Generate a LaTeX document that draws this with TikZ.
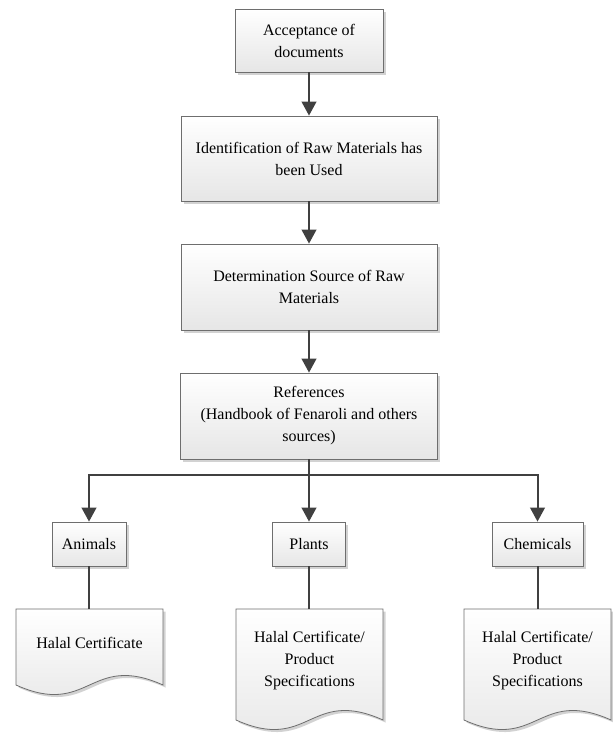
\documentclass[tikz,border=0pt]{standalone}
\usepackage{fontspec}
\setmainfont{Liberation Serif}
\usetikzlibrary{arrows.meta,shadows}
\definecolor{linec}{HTML}{404040}
\definecolor{edgec}{HTML}{6E6E6E}
\definecolor{shadc}{HTML}{D2D2D2}
\definecolor{fillbot}{HTML}{E6E6E6}
\begin{document}
\begin{tikzpicture}[x=0.75pt,y=-0.75pt,
  txt/.style={align=center,font=\fontsize{12}{16.5}\selectfont},
  box/.style={txt,draw=edgec,line width=0.6pt,top color=white,bottom color=fillbot,inner sep=0pt,
    drop shadow={shadow xshift=2pt,shadow yshift=-2pt,fill=shadc,opacity=1}},
  conn/.style={draw=linec,line width=1.5pt},
  arr/.style={conn,-{Triangle[length=10.5pt,width=11pt]}},
  docshape/.style={draw=edgec,line width=0.6pt,top color=white,bottom color=fillbot},
  docshadow/.style={fill=shadc,draw=none}]
\useasboundingbox (0,0) rectangle (612,736);

% main boxes
\node[box,minimum width=111pt,minimum height=47.25pt] (b1) at (309,40.5) {Acceptance of\\documents};
\node[box,minimum width=192pt,minimum height=63.75pt] (b2) at (309,158.5) {Identification of Raw Materials has\\been Used};
\node[box,minimum width=192pt,minimum height=64.5pt] (b3) at (309,287) {Determination Source of Raw\\Materials};
\node[box,minimum width=192.75pt,minimum height=64.5pt] (b4) at (309,416) {References\\(Handbook of Fenaroli and others\\sources)};

% category boxes
\node[box,minimum width=55.5pt,minimum height=33pt] (an) at (89,544) {Animals};
\node[box,minimum width=54.75pt,minimum height=33pt] (pl) at (309,544) {Plants};
\node[box,minimum width=68.25pt,minimum height=33pt] (ch) at (537.5,544) {Chemicals};

% document shapes
\begin{scope}[shift={(2.5,2.5)}]
  \path[docshadow] (16,609) -- (163,609) -- (163,685) .. controls (89.5,652) and (89.5,718) .. (16,685) -- cycle;
  \path[docshadow] (236,609) -- (383,609) -- (383,720) .. controls (309.5,687) and (309.5,753) .. (236,720) -- cycle;
  \path[docshadow] (464,609) -- (611,609) -- (611,720) .. controls (537.5,687) and (537.5,753) .. (464,720) -- cycle;
\end{scope}
\path[docshape] (16,609) -- (163,609) -- (163,685) .. controls (89.5,652) and (89.5,718) .. (16,685) -- cycle;
\path[docshape] (236,609) -- (383,609) -- (383,720) .. controls (309.5,687) and (309.5,753) .. (236,720) -- cycle;
\path[docshape] (464,609) -- (611,609) -- (611,720) .. controls (537.5,687) and (537.5,753) .. (464,720) -- cycle;

\node[txt] (d1) at (89.5,643) {Halal Certificate};
\node[txt] (d2) at (309.5,661) {Halal Certificate/\\Product\\Specifications};
\node[txt] (d3) at (537.5,661) {Halal Certificate/\\Product\\Specifications};

\coordinate (d1top) at (89,609);
\coordinate (d2top) at (309,609);
\coordinate (d3top) at (537.5,609);
\coordinate (hub) at (309,475);

% connectors
\draw[arr] (b1.south) -- (b2.north);
\draw[arr] (b2.south) -- (b3.north);
\draw[arr] (b3.south) -- (b4.north);
\draw[arr] (b4.south) -- (pl.north);
\draw[arr] (hub) -| (an.north);
\draw[arr] (hub) -| (ch.north);
\draw[conn] (an.south) -- (d1top);
\draw[conn] (pl.south) -- (d2top);
\draw[conn] (ch.south) -- (d3top);
\end{tikzpicture}
\end{document}
